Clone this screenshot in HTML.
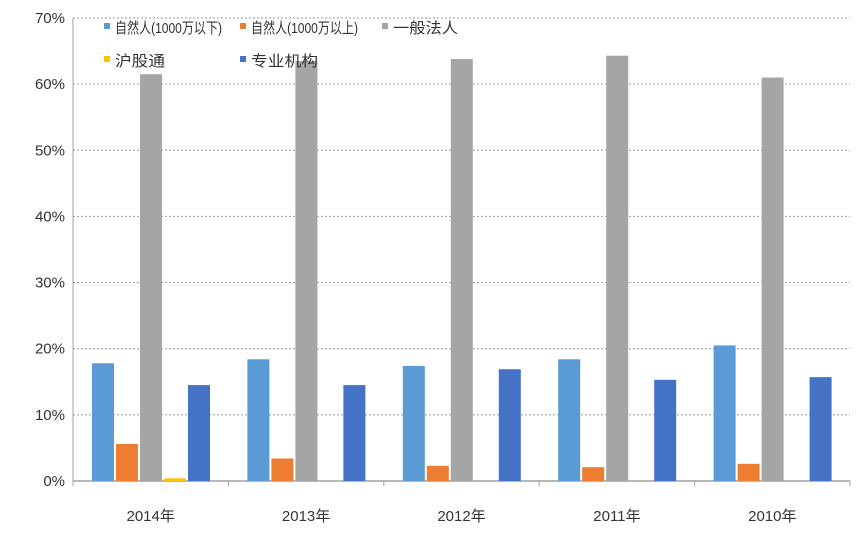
<!DOCTYPE html>
<html><head><meta charset="utf-8"><style>
body{margin:0;background:#fff;}
svg text{font-family:"Liberation Sans","Noto Sans CJK SC",sans-serif;}
</style></head><body>
<svg id="chart" width="861" height="534" xmlns="http://www.w3.org/2000/svg"></svg>
<script>
const categories = ["2014年","2013年","2012年","2011年","2010年"];
const seriesNames = ["自然人(1000万以下)","自然人(1000万以上)","一般法人","沪股通","专业机构"];
const seriesColors = ["#5b9bd5","#ed7d31","#a5a5a5","#ffc000","#4472c4"];
const s1 = [17.8,18.4,17.4,18.4,20.5];
const s2 = [5.6,3.4,2.3,2.1,2.6];
const s3 = [61.5,63.5,63.8,64.3,61.0];
const s4 = [0.4,0,0,0,0];
const s5 = [14.5,14.5,16.9,15.3,15.7];
const yTicks = [0,10,20,30,40,50,60,70];
const series = [s1,s2,s3,s4,s5];

const svg = document.getElementById('chart');
const NS = "http://www.w3.org/2000/svg";
const x0 = 73, x1 = 850, yBase = 481, yTop = 18, yMax = 70;
const gw = (x1 - x0) / categories.length;
const y = v => yBase - (v / yMax) * (yBase - yTop);
function mk(tag, attrs, parent){const e=document.createElementNS(NS,tag);for(const k in attrs)e.setAttribute(k,attrs[k]);(parent||svg).appendChild(e);return e;}

yTicks.forEach(t=>{
  if(t>0){const g=mk('line',{x1:x0,x2:x1,y1:y(t),y2:y(t),stroke:'#9a9a9a','stroke-dasharray':'2,2','stroke-width':1});
  
  }
  const l=mk('text',{x:x0-8,y:y(t)+5,'text-anchor':'end','font-size':15,fill:'#333'});
  l.textContent=t+'%';
  
  
});
const ax=mk('line',{x1:x0,x2:x0,y1:yTop,y2:yBase,stroke:'#a0a0a0'});


const xa=mk('line',{x1:x0,x2:x1,y1:yBase,y2:yBase,stroke:'#a0a0a0','stroke-width':1.5});


for(let i=0;i<=categories.length;i++){
  const tk=mk('line',{x1:x0+i*gw,x2:x0+i*gw,y1:yBase,y2:yBase+5,stroke:'#a0a0a0'});
  
  
}
const bw=22, step=24, off=19;
categories.forEach((c,i)=>{
  series.forEach((s,j)=>{
    const v=s[i]; if(v<=0) return;
    const r=mk('rect',{x:x0+i*gw+off+j*step,y:y(v),width:bw,height:yBase-y(v),fill:seriesColors[j]});
    
    
  });
  const t=mk('text',{x:x0+i*gw+gw/2,y:521,'text-anchor':'middle','font-size':15,fill:'#333'});
  t.textContent=c;
  
  
});
const legPos=[[107,27],[243,27],[385,27],[107,60],[243,60]];
const legLen=[107,107,65,50,67];
seriesNames.forEach((n,j)=>{
  const g=mk('g',{});
  
  
  const [lx,ly]=legPos[j];
  mk('rect',{x:lx-3,y:ly-4,width:6,height:6,fill:seriesColors[j]},g);
  const t=mk('text',{x:lx+8,y:ly+6,'font-size':15,fill:'#333',textLength:legLen[j],lengthAdjust:'spacingAndGlyphs'},g);
  t.textContent=n;
});
</script>
</body></html>
